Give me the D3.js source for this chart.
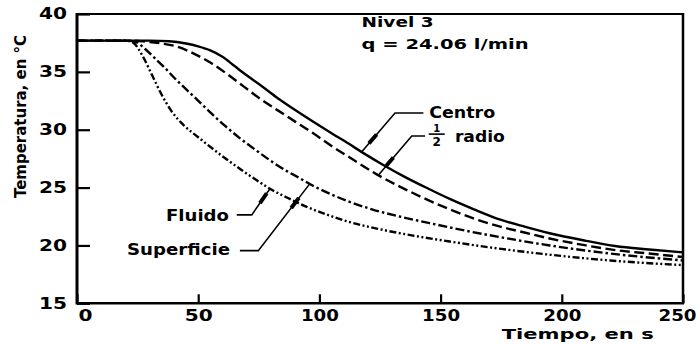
<!DOCTYPE html>
<html>
<head>
<meta charset="utf-8">
<script src="https://cdn.jsdelivr.net/npm/d3@7"></script>
<style>
  html, body { margin: 0; padding: 0; background: #fff; }
  svg { display: block; }
  text { font-family: "DejaVu Sans", sans-serif; font-weight: bold; fill: #000; }
</style>
</head>
<body>
<svg id="chart" width="700" height="344"></svg>
<script>
// Axis ticks
const xTicks = [0, 50, 100, 150, 200, 250];
const yTicks = [15, 20, 25, 30, 35, 40];

// Temperature histories [tiempo (s), temperatura (°C)]
const centro = [
  [0, 37.7], [30, 37.7], [38, 37.65], [45, 37.45], [50, 37.2], [55, 36.85], [60, 36.3],
  [65, 35.5], [70, 34.7], [76, 33.8], [83, 32.7], [90, 31.7], [97, 30.75], [105, 29.7],
  [112, 28.8], [118, 28.0], [126, 27.0], [135, 25.95], [145, 24.9], [154, 24.0],
  [164, 23.1], [175, 22.2], [185, 21.6], [195, 21.05], [210, 20.4], [222, 19.95],
  [236, 19.65], [250, 19.4]
];
const medioRadio = [
  [0, 37.7], [22, 37.7], [28, 37.62], [35, 37.45], [41, 37.2], [48, 36.6], [55, 35.8],
  [62, 34.8], [69, 33.7], [76, 32.6], [83, 31.65], [90, 30.7], [97, 29.75], [105, 28.6],
  [114, 27.4], [124, 26.1], [134, 25.0], [144, 24.0], [154, 23.1], [164, 22.3],
  [175, 21.6], [185, 21.1], [195, 20.6], [210, 20.0], [222, 19.6], [236, 19.3], [250, 19.0]
];
const superficie = [
  [0, 37.7], [20, 37.7], [24, 37.6], [28, 37.0], [32, 36.2], [36, 35.4], [41, 34.3],
  [46, 33.3], [51, 32.3], [56, 31.3], [61, 30.35], [67, 29.3], [74, 28.2], [80, 27.3],
  [86, 26.5], [92, 25.8], [97, 25.2], [104, 24.5], [112, 23.8], [122, 23.1], [133, 22.5],
  [145, 21.95], [155, 21.5], [175, 20.7], [195, 20.0], [220, 19.3], [250, 18.7]
];
const fluido = [
  [0, 37.7], [20, 37.7], [23, 37.55], [27, 36.4], [31, 34.7], [35, 33.0], [39, 31.6],
  [44, 30.4], [50, 29.35], [56, 28.35], [62, 27.4], [68, 26.5], [74, 25.65], [80, 24.85],
  [87, 24.1], [94, 23.4], [100, 22.9], [106, 22.45], [112, 22.05], [125, 21.4],
  [140, 20.8], [155, 20.3], [175, 19.7], [195, 19.2], [220, 18.7], [250, 18.3]
];

const svg = d3.select("#chart");
const x = d3.scaleLinear().domain([0, 250]).range([77, 683]);
const y = d3.scaleLinear().domain([15, 40]).range([303.3, 14]);

// Frame
const frame = svg.append("g").attr("stroke", "#000").attr("fill", "none");
frame.append("line").attr("x1", x(0)).attr("x2", x(250)).attr("y1", y(40)).attr("y2", y(40)).attr("stroke-width", 2);
frame.append("line").attr("x1", x(250)).attr("x2", x(250)).attr("y1", y(40) - 1).attr("y2", y(15)).attr("stroke-width", 2.5);
frame.append("line").attr("x1", x(0)).attr("x2", x(250) + 1).attr("y1", y(15)).attr("y2", y(15)).attr("stroke-width", 2.5);
frame.append("line").attr("x1", x(0)).attr("x2", x(0)).attr("y1", y(40) - 1).attr("y2", y(15) + 1.2).attr("stroke-width", 3);

const digitWidth = { 1: 14, 2: 28, 3: 38 };

// Y axis
const gy = svg.append("g")
  .attr("transform", `translate(${x(0)},0)`)
  .call(d3.axisLeft(y).tickValues(yTicks).tickSize(-13).tickPadding(10).tickFormat(d3.format("d")));
gy.attr("font-size", 15);
gy.select(".domain").remove();
gy.selectAll(".tick line").attr("stroke", "#000").attr("stroke-width", 2.2);
gy.selectAll(".tick text")
  .attr("textLength", d => digitWidth[String(d).length])
  .attr("lengthAdjust", "spacingAndGlyphs");

// X axis
const gx = svg.append("g")
  .attr("transform", `translate(0,${y(15)})`)
  .call(d3.axisBottom(x).tickValues(xTicks).tickSize(-9).tickPadding(7).tickFormat(d3.format("d")));
gx.attr("font-size", 15);
gx.select(".domain").remove();
gx.selectAll(".tick line").attr("stroke", "#000").attr("stroke-width", 2.2);
gx.selectAll(".tick text")
  .attr("dx", d => d === 0 ? 8 : d === 250 ? -6 : 0)
  .attr("textLength", d => digitWidth[String(d).length])
  .attr("lengthAdjust", "spacingAndGlyphs");

// Axis titles
svg.append("text")
  .attr("x", 501.7).attr("y", 338.5)
  .attr("font-size", 14)
  .attr("textLength", 152).attr("lengthAdjust", "spacingAndGlyphs")
  .text("Tiempo, en s");
svg.append("text")
  .attr("transform", "translate(26,116.5) rotate(-90)")
  .attr("text-anchor", "middle")
  .attr("font-size", 16)
  .attr("textLength", 163).attr("lengthAdjust", "spacingAndGlyphs")
  .text("Temperatura, en °C");

// Curves
const line = d3.line().x(d => x(d[0])).y(d => y(d[1])).curve(d3.curveMonotoneX);
const series = [
  { data: fluido, dash: "7,2.5,2,2.5,2,2.5" },
  { data: superficie, dash: "9,3,2.5,3" },
  { data: medioRadio, dash: "10,4.5" },
  { data: centro, dash: null }
];
svg.append("g").selectAll("path").data(series).join("path")
  .attr("d", d => line(d.data))
  .attr("fill", "none")
  .attr("stroke", "#000")
  .attr("stroke-width", 2.4)
  .attr("stroke-dasharray", d => d.dash);

function valueAt(serie, t) {
  for (let i = 1; i < serie.length; i++) {
    const [t0, v0] = serie[i - 1], [t1, v1] = serie[i];
    if (t <= t1) return v0 + (v1 - v0) * (t - t0) / (t1 - t0);
  }
  return serie[serie.length - 1][1];
}

// Leader lines: horizontal tail -> elbow -> point on the curve, with a heavy stretch
const leaders = [
  { serie: centro, tEnd: 117.4, elbow: [131.2, 31.44], tail: 142.9, heavy: [0.55, 0.78] },
  { serie: medioRadio, tEnd: 124.3, elbow: [138.1, 29.46], tail: 143.6, heavy: [0.55, 0.76] },
  { serie: fluido, tEnd: 79.6, elbow: [72.1, 22.64], tail: 65.9, heavy: [0.45, 0.82] },
  { serie: superficie, tEnd: 96, elbow: [74.8, 19.55], tail: 67.2, heavy: [0.64, 0.79] }
];
const gl = svg.append("g").attr("stroke", "#000").attr("fill", "none");
leaders.forEach(l => {
  const ex = x(l.elbow[0]), ey = y(l.elbow[1]);
  const px = x(l.tEnd), py = y(valueAt(l.serie, l.tEnd));
  gl.append("path")
    .attr("d", `M${x(l.tail)},${ey}L${ex},${ey}L${px},${py}`)
    .attr("stroke-width", 1.6);
  const ax = ex + (px - ex) * l.heavy[0], ay = ey + (py - ey) * l.heavy[0];
  const bx = ex + (px - ex) * l.heavy[1], by = ey + (py - ey) * l.heavy[1];
  gl.append("line")
    .attr("x1", ax).attr("y1", ay).attr("x2", bx).attr("y2", by)
    .attr("stroke-width", 4);
});

// Labels
const labels = [
  { text: "Nivel 3", t: 117.4, v: 38.9, size: 14, width: 72, anchor: "start" },
  { text: "q = 24.06 l/min", t: 117.4, v: 36.96, size: 14, width: 167, anchor: "start" },
  { text: "Centro", t: 145.3, v: 31.0, size: 15, width: 66, anchor: "start" },
  { text: "radio", t: 155.9, v: 28.98, size: 15, width: 50, anchor: "start" },
  { text: "Fluido", t: 62.7, v: 22.15, size: 15, width: 63, anchor: "end" },
  { text: "Superficie", t: 63.1, v: 19.18, size: 15, width: 103, anchor: "end" }
];
svg.append("g").selectAll("text").data(labels).join("text")
  .attr("x", d => x(d.t)).attr("y", d => y(d.v))
  .attr("font-size", d => d.size)
  .attr("text-anchor", d => d.anchor)
  .attr("textLength", d => d.width).attr("lengthAdjust", "spacingAndGlyphs")
  .text(d => d.text);

// The ½ in "½ radio"
const frac = { t: 148.4, num: 29.82, den: 28.56, bar: 29.62, half: 3.3 };
const gf = svg.append("g");
gf.append("text").attr("x", x(frac.t)).attr("y", y(frac.num)).attr("text-anchor", "middle").attr("font-size", 10).text("1");
gf.append("text").attr("x", x(frac.t)).attr("y", y(frac.den)).attr("text-anchor", "middle").attr("font-size", 12).text("2");
gf.append("line")
  .attr("x1", x(frac.t - frac.half)).attr("x2", x(frac.t + frac.half))
  .attr("y1", y(frac.bar)).attr("y2", y(frac.bar))
  .attr("stroke", "#000").attr("stroke-width", 1.6);
</script>
</body>
</html>
